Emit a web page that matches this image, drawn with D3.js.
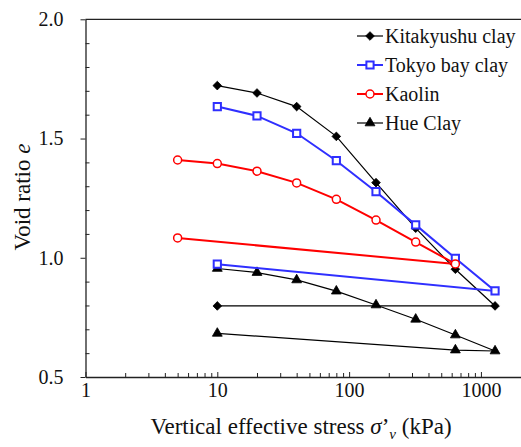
<!DOCTYPE html>
<html>
<head>
<meta charset="utf-8">
<script src="https://cdn.jsdelivr.net/npm/d3@7"></script>
<style>
  html, body { margin: 0; padding: 0; background: #fff; }
  svg { display: block; }
</style>
</head>
<body>
<svg id="chart" width="521" height="447"></svg>
<script>
// Oedometer curves: vertical effective stress (kPa) vs void ratio, loading then unloading
const kitakyushuStress = [10, 20, 40, 80, 160, 320, 640, 1280, 10];
const kitakyushuVoid   = [1.722, 1.691, 1.634, 1.509, 1.315, 1.124, 0.952, 0.798, 0.798];

const tokyoStress = [10, 20, 40, 80, 160, 320, 640, 1280, 10];
const tokyoVoid   = [1.634, 1.595, 1.522, 1.407, 1.277, 1.138, 0.998, 0.861, 0.973];

const kaolinStress = [5, 10, 20, 40, 80, 160, 320, 640, 5];
const kaolinVoid   = [1.410, 1.395, 1.363, 1.314, 1.245, 1.158, 1.066, 0.974, 1.083];

const hueStress = [10, 20, 40, 80, 160, 320, 640, 1280, 640, 10];
const hueVoid   = [0.955, 0.938, 0.907, 0.860, 0.802, 0.742, 0.676, 0.609, 0.613, 0.683];

const seriesNames = ["Kitakyushu clay", "Tokyo bay clay", "Kaolin", "Hue Clay"];

const xMajorTicks = [1, 10, 100, 1000];
const yMajorTicks = [0.5, 1.0, 1.5, 2.0];

const SERIF = "'Liberation Serif', Tinos, 'DejaVu Serif', 'Noto Serif', serif";

const svg = d3.select("#chart");

const x = d3.scaleLog().domain([1, 2000]).range([85.5, 520.6]);
const y = d3.scaleLinear().domain([0.5, 2.0]).range([377, 19.3]);

const zip = (xs, ys) => xs.map((v, i) => ({ s: v, e: ys[i] }));

const series = [
  { name: seriesNames[0], data: zip(kitakyushuStress, kitakyushuVoid), color: "#000", width: 1.2, marker: "diamond" },
  { name: seriesNames[3], data: zip(hueStress, hueVoid), color: "#000", width: 1.2, marker: "triangle" },
  { name: seriesNames[1], data: zip(tokyoStress, tokyoVoid), color: "#2f2fff", width: 2, marker: "square" },
  { name: seriesNames[2], data: zip(kaolinStress, kaolinVoid), color: "#ff0000", width: 2, marker: "circle" }
];

// minor ticks for the log axis
const xMinor = [];
[1, 10, 100].forEach(d => { for (let k = 2; k <= 9; k++) xMinor.push(d * k); });
const yMinor = d3.range(6, 20).map(v => v / 10).filter(v => Math.abs(v * 2 - Math.round(v * 2)) > 1e-6);

// top frame line
svg.append("line")
  .attr("x1", x(1)).attr("x2", 521)
  .attr("y1", y(2.0)).attr("y2", y(2.0))
  .attr("stroke", "#222").attr("stroke-width", 1.3);

// x axis: minor ticks and major ticks pointing inward
const gx = svg.append("g").attr("transform", `translate(0,${y(0.5)})`);
gx.append("g")
  .call(d3.axisBottom(x).tickValues(xMinor).tickSizeInner(-4).tickSizeOuter(0).tickFormat(""))
  .call(g => g.select(".domain").remove());
gx.append("g")
  .call(d3.axisBottom(x).tickValues(xMajorTicks).tickSizeInner(-5).tickSizeOuter(0)
    .tickPadding(6).tickFormat(d3.format("d")))
  .call(g => g.select(".domain").attr("stroke", "#222").attr("stroke-width", 1.3));
gx.selectAll(".tick line").attr("stroke", "#222");

// y axis: major ticks outward, minor ticks inward
const gy = svg.append("g").attr("transform", `translate(${x(1)},0)`);
gy.append("g")
  .call(d3.axisLeft(y).tickValues(yMinor).tickSizeInner(-4).tickSizeOuter(0).tickFormat(""))
  .call(g => g.select(".domain").remove());
gy.append("g")
  .call(d3.axisLeft(y).tickValues(yMajorTicks).tickSizeInner(5).tickSizeOuter(0)
    .tickPadding(17).tickFormat(d3.format(".1f")))
  .call(g => g.select(".domain").attr("stroke", "#222").attr("stroke-width", 1.3));
gy.selectAll(".tick line").attr("stroke", "#222");

// marker shapes
const markerPath = {
  diamond: d3.symbol().type(d3.symbolDiamond2).size(48),
  triangle: d3.symbol().type(d3.symbolTriangle).size(42),
  square: d3.symbol().type(d3.symbolSquare).size(52),
  circle: d3.symbol().type(d3.symbolCircle).size(50)
};

function drawMarker(g, kind, color) {
  const p = g.append("path").attr("d", markerPath[kind]());
  if (kind === "diamond" || kind === "triangle") {
    p.attr("fill", color).attr("stroke", color).attr("stroke-width", 0.8);
  } else {
    p.attr("fill", "#fff").attr("stroke", color).attr("stroke-width", kind === "square" ? 2 : 1.5);
  }
  return p;
}

const line = d3.line().x(d => x(d.s)).y(d => y(d.e));

series.forEach(s => {
  const g = svg.append("g");
  g.append("path")
    .attr("d", line(s.data))
    .attr("fill", "none")
    .attr("stroke", s.color)
    .attr("stroke-width", s.width);
  s.data.forEach(d => {
    const m = g.append("g").attr("transform", `translate(${x(d.s)},${y(d.e)})`);
    drawMarker(m, s.marker, s.color);
  });
});

// legend
const legendOrder = [series[0], series[2], series[3], series[1]];
const legend = svg.append("g");
legendOrder.forEach((s, i) => {
  const yy = 36 + i * 29;
  legend.append("line")
    .attr("x1", 357).attr("x2", 383).attr("y1", yy).attr("y2", yy)
    .attr("stroke", s.color).attr("stroke-width", s.width);
  const m = legend.append("g").attr("transform", `translate(370,${yy})`);
  drawMarker(m, s.marker, s.color);
  legend.append("text")
    .attr("x", 385).attr("y", yy).attr("dy", "0.35em")
    .attr("font-size", 20)
    .text(s.name);
});

// axis titles
const xt = svg.append("text")
  .attr("x", 301).attr("y", 434)
  .attr("text-anchor", "middle")
  .attr("font-size", 23);
xt.append("tspan").text("Vertical effective stress ");
xt.append("tspan").attr("font-style", "italic").text("σ");
xt.append("tspan").text("’");
xt.append("tspan").attr("font-style", "italic").attr("font-size", 15).attr("dy", 5).text("v");
xt.append("tspan").attr("dy", -5).text(" (kPa)");

const yt = svg.append("text")
  .attr("transform", "translate(30,197) rotate(-90)")
  .attr("text-anchor", "middle")
  .attr("font-size", 23);
yt.append("tspan").text("Void ratio ");
yt.append("tspan").attr("font-style", "italic").text("e");

// serif face on every label, tick labels included
svg.selectAll("text")
  .style("font-family", SERIF)
  .style("fill", "#111")
  .filter(function () { return this.closest(".tick"); })
  .style("font-size", "20px");
</script>
</body>
</html>
